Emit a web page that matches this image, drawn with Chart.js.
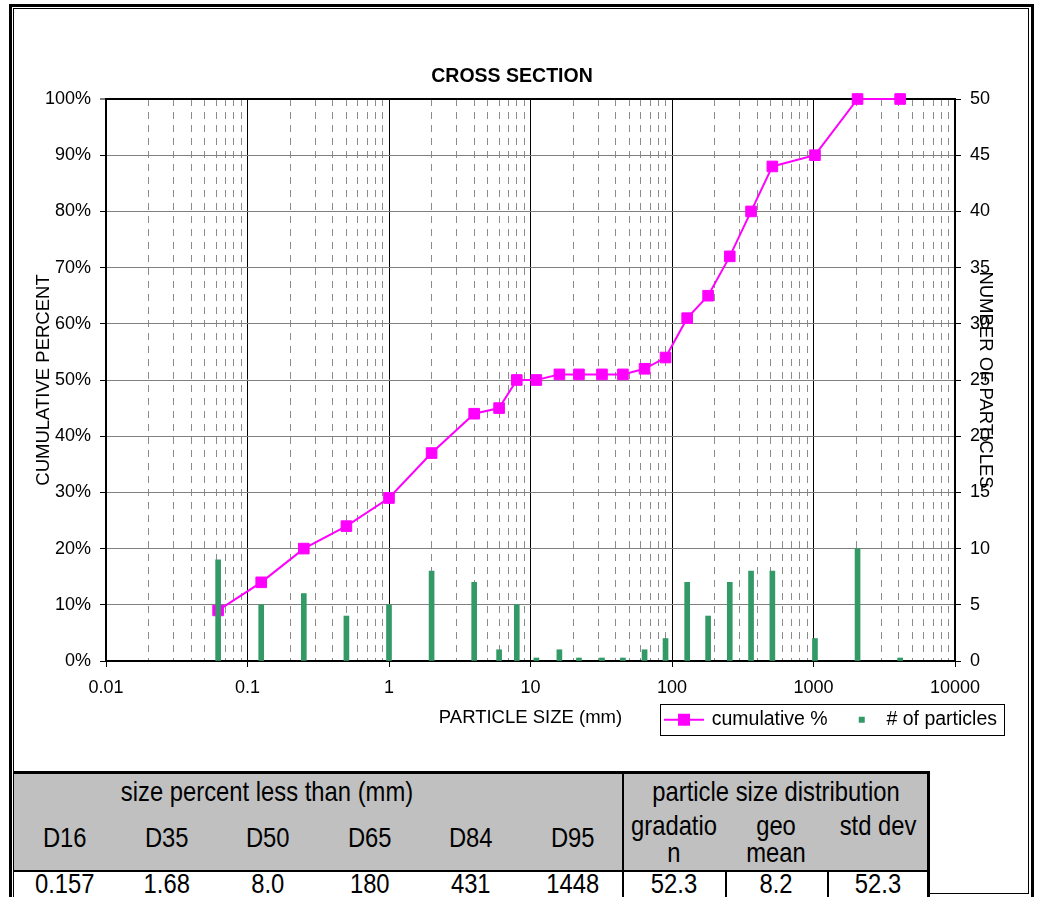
<!DOCTYPE html>
<html>
<head>
<meta charset="utf-8">
<script src="https://cdn.jsdelivr.net/npm/chart.js@4.4.1/dist/chart.umd.min.js"></script>
<style>
  body { margin: 0; background: #fff; width: 1041px; height: 897px; overflow: hidden; position: relative; }
  .ln { position: absolute; background: #000; }
  #chartBox { position: absolute; left: 14px; top: 9px; width: 1014px; height: 762px; }
  .cell { position: absolute; text-align: center; color: #000;
          font-family: "Liberation Sans", Arial, sans-serif;
          font-size: 28px; line-height: 27px; white-space: nowrap;
          transform: scaleX(0.85); transform-origin: 50% 50%; }
</style>
</head>
<body>
<div id="chartBox"><canvas id="chart" width="1014" height="762"></canvas></div>
<div id="table"></div>

<script>
// particle sizes (mm) and the two series
const sizes = [0.062, 0.125, 0.25, 0.5, 1, 2, 4, 6, 8, 11, 16, 22, 32, 45, 64, 90, 128, 180, 256, 362, 512, 1024, 2048, 4096];
const cumulativePct = [9, 14, 20, 24, 29, 37, 44, 45, 50, 50, 51, 51, 51, 51, 52, 54, 61, 65, 72, 80, 88, 90, 100, 100];
const particleCounts = [9, 5, 6, 4, 5, 8, 7, 1, 5, 0, 1, 0, 0, 0, 1, 2, 7, 4, 7, 8, 8, 2, 10, 0];

const xTickValues = [0.01, 0.1, 1, 10, 100, 1000, 10000];
const xTickLabels = ['0.01', '0.1', '1', '10', '100', '1000', '10000'];

// table under the chart
const sizeTitle = 'size percent less than (mm)';
const distTitle = 'particle size distribution';
const sizeHeads = ['D16', 'D35', 'D50', 'D65', 'D84', 'D95'];
const sizeValues = ['0.157', '1.68', '8.0', '180', '431', '1448'];
const distHeads = [['gradatio', 'n'], ['geo', 'mean'], ['std dev']];
const distValues = ['52.3', '8.2', '52.3'];

// minor log grid positions (2..9 in each decade)
const minorTicks = [];
for (let d = 0.01; d < 10000; d *= 10) {
  for (let m = 2; m <= 9; m++) minorTicks.push(+(d * m).toPrecision(3));
}

// ---- frame + table drawing (plain DOM) ----
function line(l, t, w, h) {
  const d = document.createElement('div');
  d.className = 'ln';
  d.style.cssText = `left:${l}px;top:${t}px;width:${w}px;height:${h}px`;
  document.body.appendChild(d);
}
function cell(text, l, t, w) {
  const d = document.createElement('div');
  d.className = 'cell';
  d.style.left = l + 'px';
  d.style.top = t + 'px';
  d.style.width = w + 'px';
  d.innerHTML = text;
  document.getElementById('table').appendChild(d);
}

const grey = document.createElement('div');
grey.style.cssText = 'position:absolute;left:14px;top:774px;width:913px;height:97px;background:#c0c0c0';
document.getElementById('table').appendChild(grey);

const colW = 101.5;
sizeHeads.forEach((h, i) => cell(h, 14 + i * colW, 824, colW));
sizeValues.forEach((v, i) => cell(v, 14 + i * colW, 870, colW));
distHeads.forEach((h, i) => cell(h.join('<br>'), 623 + i * 102, 812, 102));
distValues.forEach((v, i) => cell(v, 623 + i * 102, 870, 102));
cell(sizeTitle, 14, 778, 506);
cell(distTitle, 623, 778, 306);

// outer double frame
line(9, 4, 1025, 3); line(9, 4, 3, 893); line(1031, 4, 3, 893);
line(13, 8, 1016, 1); line(13, 8, 1, 889); line(1028, 8, 1, 886); line(930, 893, 99, 1);
// table borders
line(13, 771, 917, 3); line(927, 771, 3, 126);
line(14, 870, 913, 2); line(622, 774, 2, 123);
line(725, 872, 2, 25); line(827, 872, 2, 25);

// ---- chart ----
Chart.defaults.font.family = '"Liberation Sans", Arial, sans-serif';
Chart.defaults.color = '#000';

function makeIcon(kind) {
  const c = document.createElement('canvas');
  c.width = 40; c.height = 16;
  const g = c.getContext('2d');
  if (kind === 'line') {
    g.strokeStyle = '#ff00ff'; g.lineWidth = 2;
    g.beginPath(); g.moveTo(0, 8); g.lineTo(40, 8); g.stroke();
    g.fillStyle = '#ff00ff'; g.fillRect(14, 2, 12, 12);
  } else {
    g.fillStyle = '#339966'; g.fillRect(20, 5, 6, 6);
  }
  return c;
}
const legendIcons = [makeIcon('line'), makeIcon('square')];

// box around the legend entries
const legendFrame = {
  id: 'legendFrame',
  afterDraw(chart) {
    const hb = chart.legend && chart.legend.legendHitBoxes;
    if (!hb || !hb.length) return;
    const first = hb[0], last = hb[hb.length - 1];
    const cy = first.top + first.height / 2;
    const c = chart.ctx;
    c.save();
    c.strokeStyle = '#000';
    c.lineWidth = 1;
    c.strokeRect(Math.round(first.left - 6) + 0.5, Math.round(cy - 15.5) + 0.5,
                 Math.round(last.left + last.width - first.left + 13), 31);
    c.restore();
  }
};

const ctx = document.getElementById('chart').getContext('2d');
new Chart(ctx, {
  type: 'line',
  data: {
    datasets: [{
      type: 'line',
      label: 'cumulative %',
      data: sizes.map((s, i) => ({ x: s, y: cumulativePct[i] })),
      xAxisID: 'x',
      yAxisID: 'y',
      borderColor: '#ff00ff',
      backgroundColor: '#ff00ff',
      borderWidth: 2,
      pointStyle: 'rect',
      pointRadius: 7.5,
      pointBorderWidth: 1,
      pointBackgroundColor: '#ff00ff',
      tension: 0,
      clip: false,
      order: 2
    }, {
      type: 'bar',
      label: '# of particles',
      data: sizes.map((s, i) => ({ x: s, y: particleCounts[i] })),
      xAxisID: 'x',
      yAxisID: 'y2',
      backgroundColor: '#339966',
      borderWidth: 0,
      barThickness: 5,
      minBarLength: 3,
      order: 1
    }]
  },
  options: {
    responsive: false,
    animation: false,
    layout: { padding: { left: 0, right: 18, top: 0, bottom: 31.5 } },
    plugins: {
      tooltip: { enabled: false },
      title: {
        display: true,
        text: 'CROSS SECTION',
        color: '#000',
        font: { size: 19.5, weight: 'bold' },
        padding: { top: 56, bottom: 10.6 }
      },
      legend: {
        position: 'bottom',
        align: 'end',
        labels: {
          usePointStyle: true,
          pointStyleWidth: 36,
          padding: 13,
          color: '#000',
          font: { size: 19.5 },
          generateLabels: chart => chart.data.datasets.map((ds, i) => ({
            text: ds.label,
            pointStyle: legendIcons[i],
            fillStyle: ds.backgroundColor,
            strokeStyle: ds.backgroundColor,
            lineWidth: 0,
            hidden: false,
            datasetIndex: i
          }))
        }
      }
    },
    scales: {
      x: {
        type: 'logarithmic',
        position: 'bottom',
        min: 0.01,
        max: 10000,
        offset: false,
        afterBuildTicks: s => { s.ticks = xTickValues.map(v => ({ value: v, major: true })); },
        afterFit: s => { s.height = 36; },
        ticks: {
          autoSkip: false,
          maxRotation: 0,
          padding: 10,
          font: { size: 18 },
          callback: (v, i) => xTickLabels[i]
        },
        grid: { color: '#000', lineWidth: 1, tickLength: 6, tickColor: '#000', offset: false },
        border: { color: '#000', width: 2 },
        title: {
          display: true,
          text: 'PARTICLE SIZE (mm)',
          font: { size: 18.5 },
          padding: { top: 0, bottom: -32 }
        }
      },
      xMinor: {
        type: 'logarithmic',
        position: 'bottom',
        min: 0.01,
        max: 10000,
        offset: false,
        afterBuildTicks: s => { s.ticks = minorTicks.map(v => ({ value: v })); },
        afterFit: s => { s.height = 0; },
        ticks: { display: false },
        grid: { color: '#8c8c8c', lineWidth: 1, drawTicks: false, offset: false },
        border: { display: false, dash: [7, 6] }
      },
      y: {
        position: 'left',
        min: 0,
        max: 100,
        afterFit: s => { s.width = 92; },
        ticks: { stepSize: 10, padding: 9, font: { size: 18 }, callback: v => v + '%' },
        grid: {
          color: c => (c.tick && c.tick.value === 100 ? '#000' : '#808080'),
          lineWidth: c => (c.tick && c.tick.value === 100 ? 2 : 1),
          tickLength: 6,
          tickColor: '#000',
          tickWidth: 1
        },
        border: { color: '#000', width: 2 },
        title: {
          display: true,
          text: 'CUMULATIVE PERCENT',
          font: { size: 18.5 },
          padding: { top: 19, bottom: 0 }
        }
      },
      y2: {
        position: 'right',
        min: 0,
        max: 50,
        afterFit: s => { s.width = 55; },
        ticks: { stepSize: 5, padding: 9, font: { size: 18 } },
        grid: { drawOnChartArea: false, tickLength: 6, tickColor: '#000', tickWidth: 1 },
        border: { color: '#000', width: 2 },
        title: {
          display: true,
          text: 'NUMBER OF PARTICLES',
          font: { size: 18.5 },
          padding: { top: 14, bottom: 0 }
        }
      }
    }
  },
  plugins: [legendFrame]
});
</script>
</body>
</html>
